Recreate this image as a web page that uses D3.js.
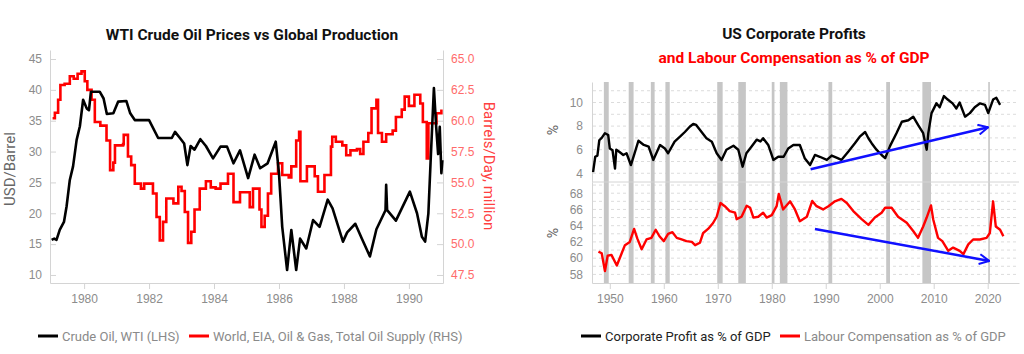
<!DOCTYPE html>
<html>
<head>
<meta charset="utf-8">
<script src="https://cdn.jsdelivr.net/npm/d3@7"></script>
<style>
  body { margin: 0; background: #fff; }
  svg { display: block; font-family: Roboto, "Noto Sans", sans-serif; }
  .tick text { fill: #8c8c8c; font-size: 12px; }
  .axis path, .axis line { stroke: #d4d4d4; }
</style>
</head>
<body>
<svg id="chart" width="1024" height="354"></svg>
<script>
// WTI crude, USD/barrel  [year, value]
var wti = [
  [1979.00,15.7],[1979.08,15.9],[1979.15,15.7],[1979.25,17.3],[1979.38,18.6],[1979.46,21.1],
  [1979.56,25.4],[1979.66,27.6],[1979.77,31.9],[1979.87,34.1],[1979.97,38.4],[1980.08,37.0],
  [1980.15,36.7],[1980.21,39.7],[1980.48,39.7],[1980.60,38.6],[1980.70,36.1],[1980.90,36.2],
  [1981.05,38.1],[1981.30,38.2],[1981.42,36.2],[1981.56,35.1],[1982.00,35.1],[1982.28,32.2],
  [1982.70,32.2],[1982.80,33.2],[1982.95,32.2],[1983.08,31.3],[1983.18,27.8],[1983.28,30.9],
  [1983.40,30.3],[1983.58,32.0],[1983.75,30.9],[1983.97,28.9],[1984.20,30.8],[1984.40,30.8],
  [1984.60,28.1],[1984.80,30.2],[1985.05,25.7],[1985.25,29.5],[1985.42,27.3],[1985.65,28.1],
  [1985.90,31.6],[1986.00,26.5],[1986.10,17.8],[1986.25,10.8],[1986.38,17.3],[1986.53,10.8],
  [1986.65,15.9],[1986.84,14.3],[1987.05,18.9],[1987.25,17.8],[1987.50,22.2],[1987.65,20.8],
  [1987.97,15.4],[1988.10,16.9],[1988.35,18.3],[1988.55,15.9],[1988.80,13.0],[1989.00,17.4],
  [1989.28,20.5],[1989.30,24.6],[1989.33,20.5],[1989.60,18.8],[1989.80,21.0],[1990.03,23.5],
  [1990.25,20.0],[1990.40,16.2],[1990.50,15.4],[1990.60,20.0],[1990.67,28.6],[1990.77,40.3],
  [1990.84,34.0],[1990.90,29.6],[1990.95,34.0],[1991.00,26.5],[1991.03,28.6]
];
// world total oil supply, million barrels/day
var oilSupply = [
  [1979.03,60.2],[1979.10,60.65],[1979.20,61.7],[1979.27,62.9],[1979.40,63.0],[1979.56,63.6],
  [1979.68,63.4],[1979.80,63.8],[1979.92,64.0],[1980.02,63.2],[1980.10,62.5],[1980.23,61.7],
  [1980.33,59.9],[1980.50,59.6],[1980.69,58.4],[1980.80,56.0],[1980.90,56.6],[1980.95,58.0],
  [1981.20,58.1],[1981.22,58.85],[1981.35,57.1],[1981.45,56.4],[1981.56,54.9],[1981.75,54.5],
  [1981.85,54.9],[1982.12,54.1],[1982.23,52.2],[1982.33,50.3],[1982.43,51.8],[1982.53,53.7],
  [1982.75,53.3],[1982.90,54.65],[1983.00,54.3],[1983.10,52.6],[1983.20,50.1],[1983.30,51.0],
  [1983.40,52.8],[1983.56,54.5],[1983.75,55.1],[1983.90,54.6],[1984.05,54.5],[1984.20,54.9],
  [1984.43,55.7],[1984.60,53.4],[1984.80,54.2],[1985.10,53.0],[1985.20,54.5],[1985.40,52.8],
  [1985.46,51.4],[1985.56,52.3],[1985.66,54.1],[1985.76,55.7],[1985.97,56.55],[1986.10,55.6],
  [1986.30,55.4],[1986.38,56.3],[1986.53,58.4],[1986.62,59.1],[1986.66,55.1],[1986.86,56.3],
  [1987.10,55.5],[1987.20,54.25],[1987.40,55.6],[1987.60,57.9],[1987.64,58.7],[1987.75,58.3],
  [1987.95,58.0],[1988.07,57.2],[1988.20,57.6],[1988.40,57.7],[1988.50,57.3],[1988.60,58.3],
  [1988.75,59.0],[1988.85,61.0],[1989.00,61.7],[1989.05,59.0],[1989.17,58.3],[1989.30,58.9],
  [1989.50,59.2],[1989.60,60.3],[1989.78,60.9],[1989.87,61.95],[1990.00,61.2],[1990.17,62.1],
  [1990.35,61.4],[1990.43,59.9],[1990.55,56.95],[1990.60,59.8],[1990.85,60.6],[1991.00,60.9]
];
var oilYearTicks = [1980, 1982, 1984, 1986, 1988, 1990];
var usdTicks = [10, 15, 20, 25, 30, 35, 40, 45];
var bblTicks = [47.5, 50, 52.5, 55, 57.5, 60, 62.5, 65];

// US corporate profit, % of GDP
var profit = [
  [1946.9,4.1],[1947.3,5.4],[1947.7,5.5],[1948.05,6.8],[1948.5,7.0],[1949.1,7.4],[1949.7,7.25],
  [1950.0,6.1],[1950.5,5.95],[1950.96,4.4],[1951.2,6.0],[1951.8,5.8],[1952.5,5.55],[1953.1,5.7],
  [1953.9,4.7],[1954.6,5.7],[1955.3,6.76],[1956.3,6.4],[1957.2,6.25],[1958.05,5.13],[1959.3,6.4],
  [1960.2,6.1],[1960.8,5.7],[1962.0,6.68],[1963.0,7.1],[1963.9,7.5],[1964.8,7.95],[1965.45,8.18],
  [1966.0,8.1],[1967.0,7.5],[1967.9,6.97],[1968.9,6.68],[1969.8,5.7],[1970.7,5.13],[1971.6,6.0],
  [1972.9,6.33],[1973.8,6.0],[1974.6,4.56],[1975.3,5.7],[1976.3,6.3],[1977.2,6.85],[1977.9,6.7],
  [1978.4,6.97],[1979.35,6.4],[1980.3,5.13],[1981.2,5.4],[1982.2,5.4],[1983.05,6.1],[1984.0,6.4],
  [1985.2,6.4],[1986.1,5.28],[1987.1,4.7],[1988.0,5.55],[1988.9,5.4],[1990.2,5.13],[1991.1,5.5],
  [1992.1,5.3],[1992.9,5.13],[1994.2,5.85],[1995.4,6.55],[1996.3,7.1],[1997.3,7.5],[1997.9,6.97],
  [1998.5,6.55],[1999.4,6.0],[2000.35,5.55],[2001.0,5.28],[2001.9,6.3],[2003.1,7.4],[2004.1,8.37],
  [2005.3,8.5],[2006.2,8.8],[2007.1,8.1],[2008.05,7.4],[2008.7,6.0],[2009.0,7.4],[2009.6,9.1],
  [2010.5,9.93],[2011.1,9.6],[2011.9,10.55],[2012.6,10.25],[2013.5,9.93],[2014.2,9.5],[2014.8,10.0],
  [2015.8,8.8],[2016.7,9.1],[2017.6,9.6],[2018.6,9.93],[2019.5,9.8],[2020.1,9.1],[2021.0,10.25],
  [2021.6,10.4],[2022.3,9.8]
];
// labour compensation, % of GDP
var labour = [
  [1947.9,60.8],[1948.5,60.6],[1949.1,58.4],[1949.6,60.3],[1950.3,60.4],[1951.3,59.1],[1952.2,60.6],
  [1952.8,61.6],[1953.7,62.0],[1954.5,63.6],[1955.1,62.4],[1955.9,61.1],[1956.8,62.3],[1957.7,62.5],
  [1958.5,63.5],[1959.2,62.7],[1960.0,62.1],[1960.8,63.0],[1961.6,63.2],[1962.4,62.5],[1963.3,62.3],
  [1964.2,62.1],[1965.2,62.0],[1965.8,61.6],[1966.7,61.9],[1967.3,63.1],[1968.2,63.6],[1969.1,64.3],
  [1969.8,65.1],[1970.5,66.8],[1971.3,66.4],[1972.2,65.8],[1973.2,65.6],[1973.5,64.8],[1974.4,65.1],
  [1975.35,66.45],[1976.0,66.2],[1976.6,65.0],[1977.5,65.1],[1978.4,65.6],[1979.05,65.0],[1980.0,65.3],
  [1980.9,66.4],[1981.3,67.9],[1982.1,66.0],[1983.4,67.0],[1984.3,66.0],[1985.2,64.55],[1986.5,65.1],
  [1987.5,67.05],[1988.3,66.4],[1989.5,66.0],[1990.5,66.4],[1991.7,67.0],[1992.9,67.3],[1993.9,66.8],
  [1995.1,65.8],[1996.65,64.8],[1997.9,64.1],[1999.1,65.0],[2000.35,65.6],[2001.0,66.2],[2002.2,66.2],
  [2003.4,65.1],[2005.0,64.35],[2006.2,63.35],[2007.1,62.5],[2008.05,63.9],[2008.7,65.0],[2009.5,66.5],
  [2009.9,64.8],[2010.8,62.5],[2011.6,62.1],[2012.7,60.9],[2013.6,61.3],[2014.8,60.9],[2015.5,60.5],
  [2016.4,61.7],[2017.3,62.3],[2018.55,62.3],[2019.8,62.5],[2020.4,63.1],[2021.0,67.0],[2021.5,63.9],
  [2022.3,63.5],[2022.9,62.7]
];
// NBER recessions [start, end]
var recessions = [
  [1948.9,1949.8],[1953.5,1954.4],[1957.6,1958.3],[1960.3,1961.1],[1969.9,1970.9],[1973.8,1975.2],
  [1980.0,1980.5],[1981.5,1982.9],[1990.5,1991.2],[2001.2,2001.9],[2007.9,2009.5],[2020.1,2020.4]
];
var profitTrend = [[1987.2,4.34],[2020.1,7.9]];
var labourTrend = [[1988.0,63.6],[2020.3,59.66]];
var decadeTicks = [1950, 1960, 1970, 1980, 1990, 2000, 2010, 2020];
var profitTicks = [4, 6, 8, 10];
var labourTicks = [58, 60, 62, 64, 66, 68];

var svg = d3.select("#chart");

// ---------- left chart: oil ----------
var xL = d3.scaleLinear().domain([1978.95, 1991.05]).range([50, 443]);
var yL = d3.scaleLinear().domain([8.70, 46.46]).range([283, 50]);
var yR = d3.scaleLinear().domain([46.85, 65.73]).range([283, 50]);

svg.append("text").attr("x", 252).attr("y", 40).attr("text-anchor", "middle")
  .attr("font-size", 15.5).attr("font-weight", "bold").attr("fill", "#111")
  .text("WTI Crude Oil Prices vs Global Production");

svg.append("g").attr("class", "axis").attr("transform", "translate(50,0)")
  .call(d3.axisLeft(yL).tickValues(usdTicks).tickSize(-6).tickSizeOuter(0).tickPadding(8));
svg.append("g").attr("class", "axis axis-r").attr("transform", "translate(443,0)")
  .call(d3.axisRight(yR).tickValues(bblTicks).tickSize(-6).tickSizeOuter(0).tickPadding(8)
    .tickFormat(d3.format(".1f")));
svg.selectAll(".axis-r .tick text").style("fill", "#ff6b6b");
svg.append("g").attr("class", "axis").attr("transform", "translate(0,283)")
  .call(d3.axisBottom(xL).tickValues(oilYearTicks).tickSize(6).tickSizeOuter(0).tickPadding(5)
    .tickFormat(d3.format("d")));

svg.append("text").attr("transform", "translate(15,169) rotate(-90)").attr("text-anchor", "middle")
  .attr("font-size", 15).attr("fill", "#666").text("USD/Barrel");
svg.append("text").attr("transform", "translate(484,166) rotate(90)").attr("text-anchor", "middle")
  .attr("font-size", 15).attr("fill", "#ff4040").text("Barrels/Day, million");

svg.append("path").datum(oilSupply).attr("fill", "none").attr("stroke", "#ff0000").attr("stroke-width", 2.6)
  .attr("d", d3.line().curve(d3.curveStepAfter).x(function(d){ return xL(d[0]); }).y(function(d){ return yR(d[1]); }));
svg.append("path").datum(wti).attr("fill", "none").attr("stroke", "#000").attr("stroke-width", 2.6)
  .attr("stroke-linejoin", "round")
  .attr("d", d3.line().x(function(d){ return xL(d[0]); }).y(function(d){ return yL(d[1]); }));

// ---------- right chart: profits & labour ----------
var xR = d3.scaleLinear().domain([1946.7, 2025.8]).range([592, 1019]);
var yTop = d3.scaleLinear().domain([3.26, 11.74]).range([182, 82]);
var yBot = d3.scaleLinear().domain([56.94, 69.38]).range([283, 182]);

svg.append("text").attr("x", 794).attr("y", 39).attr("text-anchor", "middle")
  .attr("font-size", 15.5).attr("font-weight", "bold").attr("fill", "#111").text("US Corporate Profits");
svg.append("text").attr("x", 794).attr("y", 63).attr("text-anchor", "middle")
  .attr("font-size", 15.5).attr("font-weight", "bold").attr("fill", "#ff0000")
  .text("and Labour Compensation as % of GDP");

var grid = svg.append("g");
grid.selectAll("line.t").data(d3.range(4, 12)).enter().append("line")
  .attr("x1", 593).attr("x2", 1019)
  .attr("y1", function(d){ return yTop(d); }).attr("y2", function(d){ return yTop(d); })
  .attr("stroke", "#dcdcdc").attr("stroke-dasharray", "3,3");
grid.selectAll("line.b").data(d3.range(58, 70)).enter().append("line")
  .attr("x1", 593).attr("x2", 1019)
  .attr("y1", function(d){ return yBot(d); }).attr("y2", function(d){ return yBot(d); })
  .attr("stroke", "#dcdcdc").attr("stroke-dasharray", "3,3");

svg.append("g").selectAll("rect").data(recessions).enter().append("rect")
  .attr("x", function(d){ return xR(d[0]); }).attr("y", 82)
  .attr("width", function(d){ return xR(d[1]) - xR(d[0]); }).attr("height", 201)
  .attr("fill", "#c6c6c6");

svg.append("line").attr("x1", 592).attr("x2", 1019).attr("y1", 182).attr("y2", 182).attr("stroke", "#d4d4d4");

svg.append("g").attr("class", "axis").attr("transform", "translate(592,0)")
  .call(d3.axisLeft(yTop).tickValues(profitTicks).tickSize(0).tickPadding(9));
svg.append("g").attr("class", "axis").attr("transform", "translate(592,0)")
  .call(d3.axisLeft(yBot).tickValues(labourTicks).tickSize(0).tickPadding(9));
svg.append("g").attr("class", "axis").attr("transform", "translate(0,283)")
  .call(d3.axisBottom(xR).tickValues(decadeTicks).tickSize(6).tickSizeOuter(0).tickPadding(5)
    .tickFormat(d3.format("d")));

svg.append("text").attr("transform", "translate(558,130) rotate(-90)").attr("text-anchor", "middle")
  .attr("font-size", 14).attr("fill", "#666").text("%");
svg.append("text").attr("transform", "translate(558,233) rotate(-90)").attr("text-anchor", "middle")
  .attr("font-size", 14).attr("fill", "#666").text("%");

svg.append("path").datum(profit).attr("fill", "none").attr("stroke", "#000").attr("stroke-width", 2.4)
  .attr("stroke-linejoin", "round")
  .attr("d", d3.line().x(function(d){ return xR(d[0]); }).y(function(d){ return yTop(d[1]); }));
svg.append("path").datum(labour).attr("fill", "none").attr("stroke", "#ff0000").attr("stroke-width", 2.4)
  .attr("stroke-linejoin", "round")
  .attr("d", d3.line().x(function(d){ return xR(d[0]); }).y(function(d){ return yBot(d[1]); }));

// trend arrows
svg.append("defs").append("marker").attr("id", "arrow")
  .attr("viewBox", "0 0 12 12").attr("refX", 11).attr("refY", 6)
  .attr("markerWidth", 12).attr("markerHeight", 12).attr("markerUnits", "userSpaceOnUse")
  .attr("orient", "auto")
  .append("path").attr("d", "M1,1 L11,6 L1,11").attr("fill", "none")
  .attr("stroke", "#1010ff").attr("stroke-width", 2);
svg.append("line").attr("x1", xR(profitTrend[0][0])).attr("y1", yTop(profitTrend[0][1]))
  .attr("x2", xR(profitTrend[1][0])).attr("y2", yTop(profitTrend[1][1]))
  .attr("stroke", "#1010ff").attr("stroke-width", 2.5).attr("marker-end", "url(#arrow)");
svg.append("line").attr("x1", xR(labourTrend[0][0])).attr("y1", yBot(labourTrend[0][1]))
  .attr("x2", xR(labourTrend[1][0])).attr("y2", yBot(labourTrend[1][1]))
  .attr("stroke", "#1010ff").attr("stroke-width", 2.5).attr("marker-end", "url(#arrow)");

// ---------- legends ----------
function legendItem(x, color, label, textColor) {
  var g = svg.append("g").attr("transform", "translate(" + x + ",336)");
  g.append("line").attr("x1", 0).attr("x2", 20).attr("stroke", color).attr("stroke-width", 3);
  g.append("text").attr("x", 24).attr("dy", "0.35em").attr("font-size", 13).attr("fill", textColor).text(label);
}
legendItem(38, "#000", "Crude Oil, WTI (LHS)", "#8a8a8a");
legendItem(189, "#ff0000", "World, EIA, Oil & Gas, Total Oil Supply (RHS)", "#8a8a8a");
legendItem(581, "#000", "Corporate Profit as % of GDP", "#222");
legendItem(780, "#ff0000", "Labour Compensation as % of GDP", "#8a8a8a");
</script>
</body>
</html>
